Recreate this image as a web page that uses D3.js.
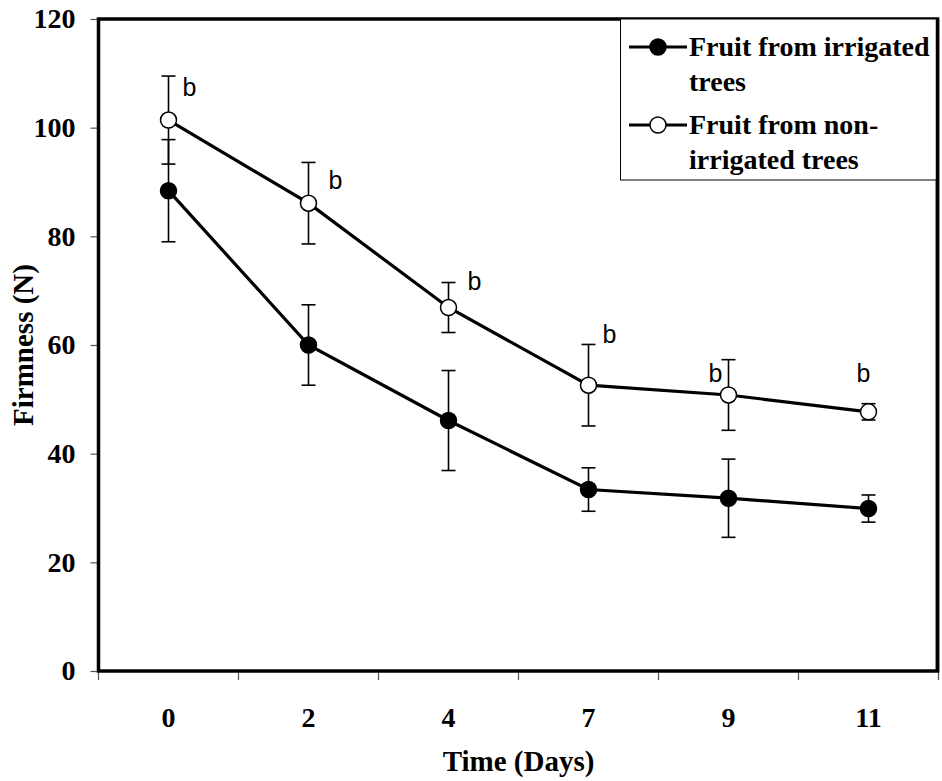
<!DOCTYPE html>
<html>
<head>
<meta charset="utf-8">
<script src="https://cdn.jsdelivr.net/npm/d3@7"></script>
<style>
  body { margin: 0; background: #fff; }
  svg { display: block; }
</style>
</head>
<body>
<div id="chart"></div>
<script>
// values
const days = ['0', '2', '4', '7', '9', '11'];
const irrigated = [88.4, 60.0, 46.1, 33.4, 31.8, 29.9];
const irrigatedErr = [9.4, 7.4, 9.2, 4.0, 7.2, 2.5];
const nonIrrigated = [101.4, 86.1, 66.9, 52.6, 50.8, 47.7];
const nonIrrigatedErr = [8.1, 7.5, 4.6, 7.5, 6.5, 1.5];
const yTicks = [0, 20, 40, 60, 80, 100, 120];
// significance letters: value where the letter sits, and sideways nudge
const letters = ['b', 'b', 'b', 'b', 'b', 'b'];
const letterY = [105.8, 88.7, 70.1, 60.4, 53.2, 53.2];
const letterDx = [14, 20, 19, 14, -20, -12];

const width = 942, height = 781;
const plot = {left: 98.5, right: 938.5, top: 19, bottom: 671};
const serif = '"Liberation Serif", "Times New Roman", serif';

const svg = d3.select('#chart')
  .append('svg')
    .attr('width', width)
    .attr('height', height);

const x = d3.scaleBand()
  .domain(days)
  .range([plot.left, plot.right]);

const y = d3.scaleLinear()
  .domain([0, 120])
  .range([plot.bottom, plot.top]);

const cx = (d) => x(d) + x.bandwidth() / 2;

// y axis
const yAxis = svg.append('g')
  .attr('transform', `translate(${plot.left}, 0)`)
  .call(d3.axisLeft(y).tickValues(yTicks).tickSize(8).tickPadding(15));
yAxis.select('.domain').remove();
yAxis.selectAll('line').attr('stroke', '#555').attr('stroke-width', 1.2);
yAxis.selectAll('text')
  .attr('font-family', serif)
  .attr('font-weight', 'bold')
  .attr('font-size', 28)
  .attr('fill', '#000');

// x axis labels at centres, ticks at band boundaries
const xAxis = svg.append('g')
  .attr('transform', `translate(0, ${plot.bottom})`)
  .call(d3.axisBottom(x).tickSize(0));
xAxis.select('.domain').remove();
xAxis.selectAll('text')
  .attr('y', 56)
  .attr('dy', 0)
  .attr('font-family', serif)
  .attr('font-weight', 'bold')
  .attr('font-size', 28)
  .attr('fill', '#000');

svg.append('g')
  .selectAll('line')
  .data(days.map((d) => x(d)).concat([plot.right]))
  .join('line')
    .attr('x1', (d) => d).attr('x2', (d) => d)
    .attr('y1', plot.bottom).attr('y2', plot.bottom + 9)
    .attr('stroke', '#555')
    .attr('stroke-width', 1.2);

// frame
svg.append('rect')
  .attr('x', plot.left)
  .attr('y', plot.top)
  .attr('width', plot.right - plot.left - 1)
  .attr('height', plot.bottom - plot.top)
  .attr('fill', 'none')
  .attr('stroke', '#000')
  .attr('stroke-width', 3.5);

// axis titles
svg.append('text')
  .attr('transform', `translate(33, ${(plot.top + plot.bottom) / 2}) rotate(-90)`)
  .attr('text-anchor', 'middle')
  .attr('font-family', serif)
  .attr('font-weight', 'bold')
  .attr('font-size', 29)
  .text('Firmness (N)');

svg.append('text')
  .attr('x', (plot.left + plot.right) / 2)
  .attr('y', 771)
  .attr('text-anchor', 'middle')
  .attr('font-family', serif)
  .attr('font-weight', 'bold')
  .attr('font-size', 29)
  .text('Time (Days)');

function addSeries(values, errs, fill) {
  const g = svg.append('g');
  const rows = days.map((d, i) => ({day: d, v: values[i], e: errs[i]}));

  const bars = g.selectAll('g.err')
    .data(rows)
    .join('g')
      .attr('class', 'err')
      .attr('stroke', '#000')
      .attr('stroke-width', 1.6);
  bars.append('line')
    .attr('x1', (d) => cx(d.day)).attr('x2', (d) => cx(d.day))
    .attr('y1', (d) => y(d.v + d.e)).attr('y2', (d) => y(d.v - d.e));
  bars.append('line')
    .attr('x1', (d) => cx(d.day) - 7).attr('x2', (d) => cx(d.day) + 7)
    .attr('y1', (d) => y(d.v + d.e)).attr('y2', (d) => y(d.v + d.e));
  bars.append('line')
    .attr('x1', (d) => cx(d.day) - 7).attr('x2', (d) => cx(d.day) + 7)
    .attr('y1', (d) => y(d.v - d.e)).attr('y2', (d) => y(d.v - d.e));

  const line = d3.line()
    .x((d) => cx(d.day))
    .y((d) => y(d.v));

  g.append('path')
    .datum(rows)
    .attr('fill', 'none')
    .attr('stroke', '#000')
    .attr('stroke-width', 3.2)
    .attr('d', line);

  g.selectAll('circle')
    .data(rows)
    .join('circle')
      .attr('cx', (d) => cx(d.day))
      .attr('cy', (d) => y(d.v))
      .attr('r', 8)
      .attr('fill', fill)
      .attr('stroke', '#000')
      .attr('stroke-width', 1.5);
}

addSeries(irrigated, irrigatedErr, '#000');
addSeries(nonIrrigated, nonIrrigatedErr, '#fff');

svg.append('g')
  .selectAll('text')
  .data(letters)
  .join('text')
    .attr('x', (d, i) => cx(days[i]) + letterDx[i])
    .attr('y', (d, i) => y(letterY[i]))
    .attr('font-family', '"Liberation Sans", Arial, sans-serif')
    .attr('font-size', 25)
    .text((d) => d);

// legend
const legend = svg.append('g');
legend.append('rect')
  .attr('x', 620.5)
  .attr('y', plot.top)
  .attr('width', plot.right - 620.5)
  .attr('height', 161)
  .attr('fill', '#fff')
  .attr('stroke', '#000')
  .attr('stroke-width', 1);
svg.append('line')
  .attr('x1', plot.right - 1).attr('x2', plot.right - 1)
  .attr('y1', plot.top).attr('y2', plot.bottom)
  .attr('stroke', '#000')
  .attr('stroke-width', 3.5);

const legendItems = [
  {fill: '#000', lines: ['Fruit from irrigated', 'trees']},
  {fill: '#fff', lines: ['Fruit from non-', 'irrigated trees']}
];
legendItems.forEach((item, i) => {
  const my = 47 + i * 78;
  legend.append('line')
    .attr('x1', 629).attr('x2', 687)
    .attr('y1', my).attr('y2', my)
    .attr('stroke', '#000')
    .attr('stroke-width', 3);
  legend.append('circle')
    .attr('cx', 658).attr('cy', my).attr('r', 8)
    .attr('fill', item.fill)
    .attr('stroke', '#000')
    .attr('stroke-width', 1.5);
  item.lines.forEach((t, j) => {
    legend.append('text')
      .attr('x', 689)
      .attr('y', my + 9 + j * 35)
      .attr('font-family', serif)
      .attr('font-weight', 'bold')
      .attr('font-size', 28)
      .text(t);
  });
});
</script>
</body>
</html>
